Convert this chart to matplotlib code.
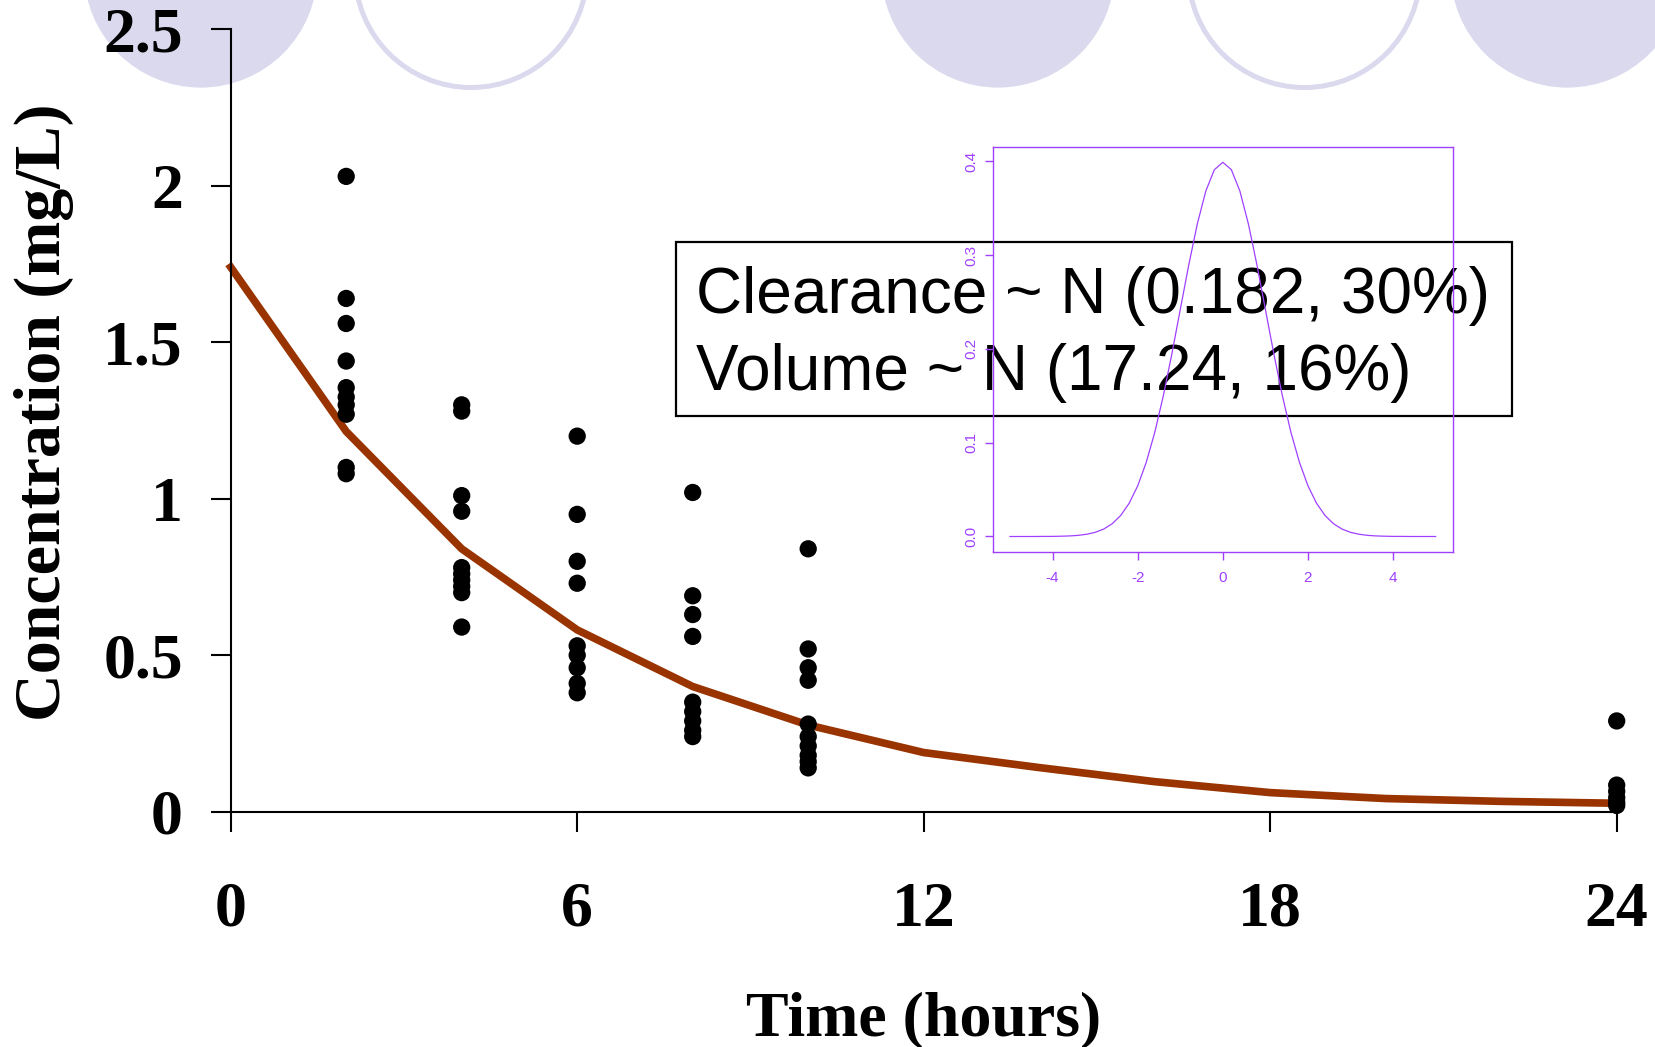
import matplotlib
matplotlib.use("Agg")
import matplotlib.pyplot as plt
from matplotlib.patches import Circle, Rectangle

# ---------------- data ----------------
obs_times = [2, 4, 6, 8, 10, 24]
conc_2h = [2.03, 1.64, 1.56, 1.44, 1.355, 1.325, 1.30, 1.27, 1.10, 1.08]
conc_4h = [1.30, 1.28, 1.01, 0.96, 0.78, 0.76, 0.74, 0.72, 0.70, 0.59]
conc_6h = [1.20, 0.95, 0.80, 0.73, 0.53, 0.50, 0.46, 0.41, 0.38]
conc_8h = [1.02, 0.69, 0.63, 0.56, 0.35, 0.32, 0.29, 0.26, 0.24]
conc_10h = [0.84, 0.52, 0.46, 0.42, 0.28, 0.24, 0.21, 0.18, 0.16, 0.14]
conc_24h = [0.29, 0.085, 0.065, 0.045, 0.03, 0.02]
obs_conc = [conc_2h, conc_4h, conc_6h, conc_8h, conc_10h, conc_24h]

model_time = [0, 2, 4, 6, 8, 10, 12, 14, 16, 18, 20, 22, 24]
model_conc = [1.74, 1.215, 0.84, 0.581, 0.40, 0.277, 0.189, 0.141, 0.096,
              0.061, 0.042, 0.033, 0.027]

x_ticks = [0, 6, 12, 18, 24]
x_tick_labels = ["0", "6", "12", "18", "24"]
y_ticks = [0, 0.5, 1, 1.5, 2, 2.5]
y_tick_labels = ["0", "0.5", "1", "1.5", "2", "2.5"]

box_lines = ["Clearance ~ N (0.182, 30%)", "Volume ~ N (17.24, 16%)"]

dens_x = [-5.0, -4.8, -4.6, -4.4, -4.2, -4.0, -3.8, -3.6, -3.4, -3.2, -3.0,
          -2.8, -2.6, -2.4, -2.2, -2.0, -1.8, -1.6, -1.4, -1.2, -1.0,
          -0.8, -0.6, -0.4, -0.2, 0.0, 0.2, 0.4, 0.6, 0.8, 1.0,
          1.2, 1.4, 1.6, 1.8, 2.0, 2.2, 2.4, 2.6, 2.8, 3.0,
          3.2, 3.4, 3.6, 3.8, 4.0, 4.2, 4.4, 4.6, 4.8, 5.0]
dens_y = [0.0, 0.0, 0.0, 0.0, 0.0001, 0.0001, 0.0003, 0.0006, 0.0012, 0.0024,
          0.0044, 0.0079, 0.0136, 0.0224, 0.0355, 0.0540, 0.0790, 0.1109,
          0.1497, 0.1942, 0.2420, 0.2897, 0.3332, 0.3683, 0.3910, 0.3989,
          0.3910, 0.3683, 0.3332, 0.2897, 0.2420, 0.1942, 0.1497, 0.1109,
          0.0790, 0.0540, 0.0355, 0.0224, 0.0136, 0.0079, 0.0044, 0.0024,
          0.0012, 0.0006, 0.0003, 0.0001, 0.0001, 0.0, 0.0, 0.0, 0.0]
inset_x_ticks = [-4, -2, 0, 2, 4]
inset_y_ticks = [0.0, 0.1, 0.2, 0.3, 0.4]
inset_y_labels = ["0.0", "0.1", "0.2", "0.3", "0.4"]

# ---------------- styles ----------------
W, H = 1656, 1047
LAV = "#DAD9EE"
PURPLE = "#A040FF"
CURVE = "#993300"
SERIF = "Liberation Serif"
SANS = "Liberation Sans"

fig = plt.figure(figsize=(W / 100, H / 100), dpi=100)
fig.patch.set_facecolor("white")

# decorative slide circles (pixel -> inch)
filled_centers = [200.7, 998.0, 1567.3]
outline_centers = [471.0, 1304.3]
for cx in filled_centers:
    fig.add_artist(Circle((cx / 100, (H + 29.1) / 100), 1.167,
                          transform=fig.dpi_scale_trans, facecolor=LAV,
                          edgecolor="none", zorder=-2))
for cx in outline_centers:
    fig.add_artist(Circle((cx / 100, (H + 28.5) / 100), 1.16,
                          transform=fig.dpi_scale_trans, facecolor="white",
                          edgecolor=LAV, linewidth=3.6, zorder=-2))

# ---------------- main axes ----------------
ax = fig.add_axes([230.7 / W, 235.3 / H, 1386.0 / W, 782.4 / H])
ax.patch.set_visible(False)
ax.set_xlim(0, 24)
ax.set_ylim(0, 2.5)

ax.plot(model_time, model_conc, color=CURVE, lw=5.5, solid_joinstyle="miter",
        zorder=2, clip_on=False)
for t, vals in zip(obs_times, obs_conc):
    ax.scatter([t] * len(vals), vals, s=155, color="black", edgecolors="none",
               zorder=3, clip_on=False)

for side in ["top", "right"]:
    ax.spines[side].set_visible(False)
ax.spines["left"].set_bounds(0, 2.5)
ax.spines["bottom"].set_bounds(0, 24)
for side in ["left", "bottom"]:
    ax.spines[side].set_linewidth(1.5)

ax.set_xticks(x_ticks)
ax.set_xticklabels(x_tick_labels, fontfamily=SERIF, fontweight="bold", fontsize=46)
ax.set_yticks(y_ticks)
ax.set_yticklabels(y_tick_labels, fontfamily=SERIF, fontweight="bold", fontsize=46)
ax.tick_params(axis="both", direction="out", length=14.4, width=1.5)
ax.tick_params(axis="x", pad=36)
ax.tick_params(axis="y", pad=20)

ax.set_xlabel("Time (hours)", fontfamily=SERIF, fontweight="bold", fontsize=46,
              va="baseline")
ax.xaxis.set_label_coords(0.5, -0.2854)
ax.set_ylabel("Concentration (mg/L)", fontfamily=SERIF, fontweight="bold",
              fontsize=47.5, va="center")
ax.yaxis.set_label_coords(-0.135, 0.51)

# ---------------- parameter box ----------------
fig.add_artist(Rectangle((675.7 / W, (H - 415.7) / H), (1512 - 675.7) / W,
                         (415.7 - 241.7) / H, transform=fig.transFigure,
                         facecolor="white", edgecolor="black", linewidth=1.6,
                         zorder=3))
fig.text(696 / W, (H - 313.3) / H, box_lines[0], fontfamily=SANS, fontsize=46,
         va="baseline", ha="left", zorder=4)
fig.text(696 / W, (H - 390.0) / H, box_lines[1], fontfamily=SANS, fontsize=46,
         va="baseline", ha="left", zorder=4)

# ---------------- inset density ----------------
iax = fig.add_axes([993 / W, (H - 551.5) / H, (1452.7 - 993) / W,
                    (551.5 - 147.2) / H], zorder=5)
iax.patch.set_visible(False)
iax.plot(dens_x, dens_y, color=PURPLE, lw=0.9)
iax.set_xlim(-5.4, 5.4)
iax.set_ylim(-0.016, 0.415)
for sp in iax.spines.values():
    sp.set_color(PURPLE)
    sp.set_linewidth(1.0)
iax.set_xticks(inset_x_ticks)
iax.set_xticklabels([str(v) for v in inset_x_ticks], fontfamily=SANS, fontsize=11,
                    color=PURPLE)
iax.set_yticks(inset_y_ticks)
iax.set_yticklabels(inset_y_labels, fontfamily=SANS, fontsize=11, color=PURPLE,
                    rotation=90, va="center")
iax.tick_params(axis="both", direction="out", length=5.8, width=1.0,
                color=PURPLE)
iax.tick_params(axis="x", pad=8)
iax.tick_params(axis="y", pad=5)

fig.savefig("out.png", dpi=100, facecolor="white")
